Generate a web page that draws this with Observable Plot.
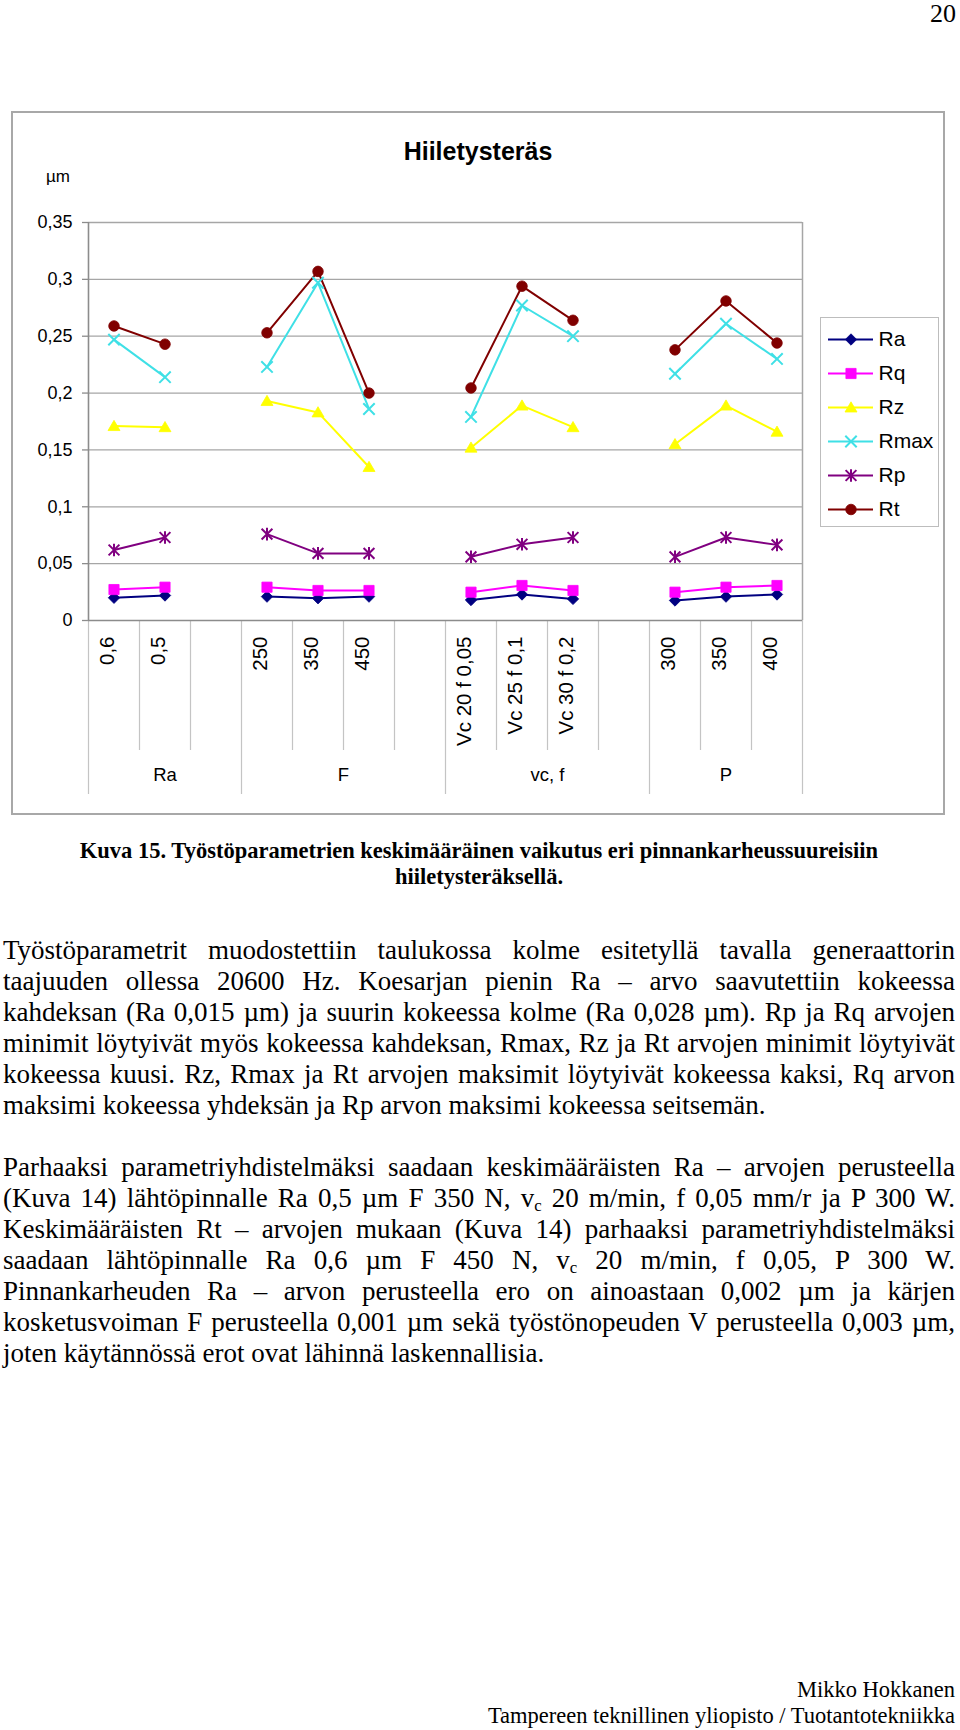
<!DOCTYPE html>
<html>
<head>
<meta charset="utf-8">
<script src="https://cdn.jsdelivr.net/npm/d3@7"></script>
<script src="https://cdn.jsdelivr.net/npm/@observablehq/plot@0.6"></script>
<style>
  html, body { margin: 0; padding: 0; background: #fff; }
  #page { position: relative; width: 960px; height: 1730px; overflow: hidden; background: #fff; }
  .abs { position: absolute; }
  .serif { font-family: "Liberation Serif", "Times New Roman", serif; color: #000; }
  .sans { font-family: "Liberation Sans", Arial, sans-serif; color: #000; }
  .body { left: 3px; width: 952px; top: 935px; font-size: 27px; line-height: 31px; }
  .body .j { text-align: justify; text-align-last: justify; white-space: nowrap; }
  .body .l { text-align: left; white-space: nowrap; }
  .body .blank { height: 31px; }
  sub { font-size: 0.62em; vertical-align: -0.22em; line-height: 0; }
</style>
</head>
<body>
<div id="page">
  <div class="abs serif" style="right:4px; top:1px; font-size:26px; line-height:26px;">20</div>

  <div class="abs" style="left:11px; top:111px; width:934px; height:704px; box-sizing:border-box; border:2px solid #a8a8a8;"></div>
  <div class="abs sans" style="left:278px; width:400px; top:137px; text-align:center; font-size:25px; line-height:28px; font-weight:bold;">Hiiletysteräs</div>
  <div class="abs sans" style="right:890px; top:167px; font-size:17px; line-height:20px;">µm</div>
  <div id="chart" class="abs" style="left:0px; top:200px;"></div>
  <div class="abs" style="left:820px; top:317px; width:119px; height:210px; box-sizing:border-box; border:1px solid #bdbdbd;"></div>
  <div id="legend" class="abs" style="left:821px; top:318px;"></div>

  <div class="abs serif" style="left:3px; width:952px; top:838px; text-align:center; font-size:22.5px; line-height:26px; font-weight:bold;">
    Kuva 15. Työstöparametrien keskimääräinen vaikutus eri pinnankarheussuureisiin<br>hiiletysteräksellä.
  </div>

  <div class="abs serif body">
    <div class="j">Työstöparametrit muodostettiin taulukossa kolme esitetyllä tavalla generaattorin</div>
    <div class="j">taajuuden ollessa 20600 Hz. Koesarjan pienin Ra – arvo saavutettiin kokeessa</div>
    <div class="j">kahdeksan (Ra 0,015 µm) ja suurin kokeessa kolme (Ra 0,028 µm). Rp ja Rq arvojen</div>
    <div class="j">minimit löytyivät myös kokeessa kahdeksan, Rmax, Rz ja Rt arvojen minimit löytyivät</div>
    <div class="j">kokeessa kuusi. Rz, Rmax ja Rt arvojen maksimit löytyivät kokeessa kaksi, Rq arvon</div>
    <div class="l">maksimi kokeessa yhdeksän ja Rp arvon maksimi kokeessa seitsemän.</div>
    <div class="blank"></div>
    <div class="j">Parhaaksi parametriyhdistelmäksi saadaan keskimääräisten Ra – arvojen perusteella</div>
    <div class="j">(Kuva 14) lähtöpinnalle Ra 0,5 µm F 350 N, v<sub>c</sub> 20 m/min, f 0,05 mm/r ja P 300 W.</div>
    <div class="j">Keskimääräisten Rt – arvojen mukaan (Kuva 14) parhaaksi parametriyhdistelmäksi</div>
    <div class="j">saadaan lähtöpinnalle Ra 0,6 µm F 450 N, v<sub>c</sub> 20 m/min, f 0,05, P 300 W.</div>
    <div class="j">Pinnankarheuden Ra – arvon perusteella ero on ainoastaan 0,002 µm ja kärjen</div>
    <div class="j">kosketusvoiman F perusteella 0,001 µm sekä työstönopeuden V perusteella 0,003 µm,</div>
    <div class="l">joten käytännössä erot ovat lähinnä laskennallisia.</div>
  </div>

  <div class="abs serif" style="right:5px; top:1677px; text-align:right; font-size:22.5px; line-height:26px;">
    Mikko Hokkanen<br>Tampereen teknillinen yliopisto / Tuotantotekniikka
  </div>
</div>

<script>
// ---------- data ----------
const categories = ["0,6", "0,5", "", "250", "350", "450", "", "Vc 20 f 0,05", "Vc 25 f 0,1", "Vc 30 f 0,2", "", "300", "350", "400"];
const groupOf    = [0, 0, 0, 1, 1, 1, 1, 2, 2, 2, 2, 3, 3, 3];
const groupNames = ["Ra", "F", "vc, f", "P"];
const seriesNames = ["Ra", "Rq", "Rz", "Rmax", "Rp", "Rt"];

const Ra   = [0.020, 0.022, null, 0.021, 0.0196, 0.021, null, 0.018, 0.0229, 0.019, null, 0.0176, 0.021, 0.0229];
const Rq   = [0.0272, 0.0293, null, 0.0293, 0.0264, 0.0264, null, 0.0249, 0.0308, 0.0264, null, 0.0249, 0.0293, 0.0308];
const Rz   = [0.171, 0.170, null, 0.193, 0.183, 0.135, null, 0.152, 0.189, 0.170, null, 0.155, 0.189, 0.166];
const Rmax = [0.247, 0.214, null, 0.223, 0.297, 0.186, null, 0.179, 0.277, 0.250, null, 0.217, 0.261, 0.230];
const Rp   = [0.062, 0.073, null, 0.076, 0.059, 0.059, null, 0.056, 0.067, 0.073, null, 0.056, 0.073, 0.0665];
const Rt   = [0.259, 0.243, null, 0.253, 0.307, 0.200, null, 0.2045, 0.294, 0.264, null, 0.238, 0.281, 0.244];

const yTicks = [0, 0.05, 0.1, 0.15, 0.2, 0.25, 0.3, 0.35];

// ---------- styles ----------
const seriesValues = [Ra, Rq, Rz, Rmax, Rp, Rt];
const seriesColors = ["#000080", "#ff00ff", "#ffff00", "#3fe0e6", "#800080", "#800000"];

const sym = {
  diamond: {draw(c, s) { const r = Math.sqrt(s / Math.PI) * 0.95; c.moveTo(0, -r); c.lineTo(r, 0); c.lineTo(0, r); c.lineTo(-r, 0); c.closePath(); }},
  square:  {draw(c, s) { const r = Math.sqrt(s / Math.PI) * 0.85; c.rect(-r, -r, 2 * r, 2 * r); }},
  triangle:{draw(c, s) { const r = Math.sqrt(s / Math.PI); c.moveTo(0, -0.95 * r); c.lineTo(r, 0.75 * r); c.lineTo(-r, 0.75 * r); c.closePath(); }},
  times:   {draw(c, s) { const r = Math.sqrt(s / Math.PI) * 0.95; c.moveTo(-r, -r); c.lineTo(r, r); c.moveTo(r, -r); c.lineTo(-r, r); }},
  star:    {draw(c, s) { const r = Math.sqrt(s / Math.PI); const a = r * 0.9; c.moveTo(-a, -a); c.lineTo(a, a); c.moveTo(a, -a); c.lineTo(-a, a); c.moveTo(0, -1.05 * r); c.lineTo(0, 1.05 * r); }},
  circle:  {draw(c, s) { const r = Math.sqrt(s / Math.PI) * 0.88; c.moveTo(r, 0); c.arc(0, 0, r, 0, 2 * Math.PI); }}
};
const seriesSymbols = [sym.diamond, sym.square, sym.triangle, sym.times, sym.star, sym.circle];
const seriesFilled  = [true, true, true, false, false, true];

// ---------- tidy table ----------
const rows = [];
seriesNames.forEach((s, k) => {
  seriesValues[k].forEach((v, i) => { if (v != null) rows.push({series: s, i, v, g: groupOf[i]}); });
});
const tickRows = categories.map((label, i) => ({i, label})).filter(d => d.label !== "");
const groupBounds = [-0.5];
const innerBounds = [];
for (let i = 1; i < categories.length; i++) {
  if (groupOf[i] !== groupOf[i - 1]) groupBounds.push(i - 0.5); else innerBounds.push(i - 0.5);
}
groupBounds.push(categories.length - 0.5);
const groupRows = groupNames.map((name, g) => {
  const idx = groupOf.map((gg, i) => gg === g ? i : null).filter(d => d != null);
  return {name, c: (idx[0] - 0.5 + idx[idx.length - 1] + 0.5) / 2};
});
const fmt = d => String(d).replace(".", ",");

// ---------- main plot ----------
const W = 810, H = 610, mL = 88, mR = 8, mT = 22, mB = 190;
const plotH = H - mT - mB, plotW = W - mL - mR;
const font = "'Liberation Sans', Arial, sans-serif";

const marks = [
  Plot.ruleY(yTicks.filter(d => d > 0), {y: d => d, stroke: "#a6a6a6", strokeWidth: 1.3}),
  Plot.ruleY(yTicks, {y: d => d, stroke: "#8c8c8c", insetLeft: -6, insetRight: plotW, strokeWidth: 1.3}),
  Plot.text(yTicks, {y: d => d, text: fmt, frameAnchor: "left", textAnchor: "end", dx: -16, fontSize: 18}),
  Plot.ruleX(innerBounds, {x: d => d, stroke: "#c4c4c4", insetTop: plotH, insetBottom: -130, strokeWidth: 1.2}),
  Plot.ruleX(groupBounds, {x: d => d, stroke: "#c4c4c4", insetTop: plotH, insetBottom: -174, strokeWidth: 1.2}),
  Plot.ruleX([categories.length - 0.5], {x: d => d, stroke: "#a6a6a6", strokeWidth: 1.5}),
  Plot.ruleX([-0.5], {x: d => d, stroke: "#8c8c8c", strokeWidth: 1.6}),
  Plot.ruleY([0], {y: d => d, stroke: "#8c8c8c", strokeWidth: 1.6}),
  Plot.text(tickRows, {x: "i", text: "label", frameAnchor: "bottom", rotate: -90, textAnchor: "end", dy: 16, fontSize: 20.5}),
  Plot.text(groupRows, {x: "c", text: "name", frameAnchor: "bottom", dy: 160, fontSize: 18.5})
];
seriesNames.forEach((s, k) => {
  const data = rows.filter(d => d.series === s);
  marks.push(Plot.line(data, {x: "i", y: "v", z: "g", stroke: seriesColors[k], strokeWidth: 2}));
});
seriesNames.forEach((s, k) => {
  const data = rows.filter(d => d.series === s);
  marks.push(Plot.dot(data, {
    x: "i", y: "v", r: 6, symbol: seriesSymbols[k],
    fill: seriesFilled[k] ? seriesColors[k] : "none",
    stroke: seriesColors[k], strokeWidth: seriesFilled[k] ? 0.8 : 2
  }));
});

const chart = Plot.plot({
  width: W, height: H,
  marginLeft: mL, marginRight: mR, marginTop: mT, marginBottom: mB,
  x: {type: "linear", domain: [-0.5, categories.length - 0.5], axis: null},
  y: {type: "linear", domain: [0, 0.35], axis: null},
  style: {background: "transparent", fontFamily: font, fontSize: "18px", color: "black", overflow: "visible"},
  marks
});
document.getElementById("chart").appendChild(chart);

// ---------- legend ----------
const legMarks = [];
seriesNames.forEach((s, k) => {
  legMarks.push(Plot.ruleY([s], {y: d => d, stroke: seriesColors[k], strokeWidth: 2}));
  legMarks.push(Plot.dot([s], {
    x: () => 0.5, y: d => d, r: 6, symbol: seriesSymbols[k],
    fill: seriesFilled[k] ? seriesColors[k] : "none",
    stroke: seriesColors[k], strokeWidth: seriesFilled[k] ? 0.8 : 2
  }));
  legMarks.push(Plot.text([s], {x: () => 1, y: d => d, text: d => d, textAnchor: "start", dx: 5, fontSize: 21}));
});
const legend = Plot.plot({
  width: 117, height: 209,
  marginLeft: 7, marginRight: 65, marginTop: 2, marginBottom: 0,
  x: {type: "linear", domain: [0, 1], axis: null},
  y: {type: "band", domain: seriesNames, padding: 0, axis: null},
  style: {background: "transparent", fontFamily: font, fontSize: "21px", color: "black", overflow: "visible"},
  marks: legMarks
});
document.getElementById("legend").appendChild(legend);
</script>
</body>
</html>
